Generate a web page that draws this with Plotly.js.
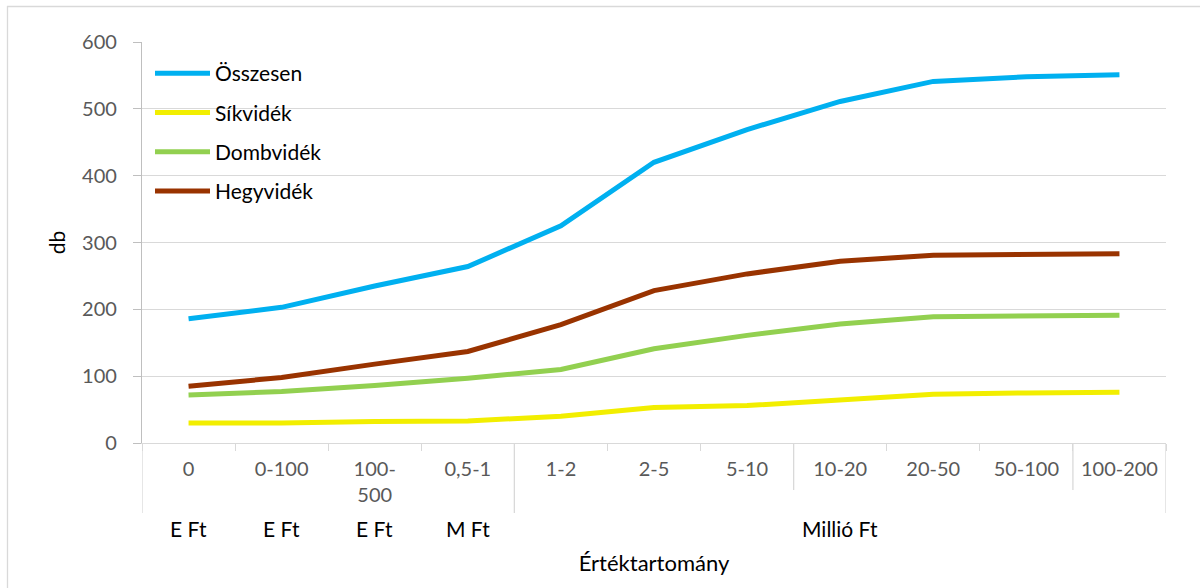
<!DOCTYPE html>
<html>
<head>
<meta charset="utf-8">
<script src="https://cdn.plot.ly/plotly-3.0.1.min.js"></script>
<style>
  html, body { margin: 0; padding: 0; background: #ffffff; }
  #chart { width: 1200px; height: 588px; }
</style>
</head>
<body>
<div id="chart"></div>
<script>
// ---- data ----
var categories = ["0", "0-100", "100-500", "0,5-1", "1-2", "2-5", "5-10", "10-20", "20-50", "50-100", "100-200"];
var tickLabels = ["0", "0-100", "100-<br>500", "0,5-1", "1-2", "2-5", "5-10", "10-20", "20-50", "50-100", "100-200"];
var unitGroups = ["E Ft", "E Ft", "E Ft", "M Ft", "Millió Ft"];
var unitGroupPos = [0, 1, 2, 3, 7];

var osszesen  = [186, 203, 235, 264, 325, 420, 469, 511, 541, 548, 551];
var sikvidek  = [30, 30, 32, 33, 40, 53, 56, 64, 73, 75, 76];
var dombvidek = [72, 77, 86, 97, 110, 141, 161, 178, 189, 190, 191];
var hegyvidek = [85, 98, 118, 137, 177, 228, 253, 272, 281, 282, 283];

var seriesNames = ["Összesen", "Síkvidék", "Dombvidék", "Hegyvidék"];
var seriesValues = [osszesen, sikvidek, dombvidek, hegyvidek];
var seriesColors = ["#00B0F0", "#F2EE00", "#92D050", "#993300"];

var FONT = "Lato, 'Open Sans', sans-serif";

var traces = seriesNames.map(function (name, i) {
  return {
    type: "scatter",
    mode: "lines",
    name: name,
    x: categories,
    y: seriesValues[i],
    legendgroup: "g" + i,
    line: { color: seriesColors[i], width: 5 },
    hoverinfo: "x+y+name"
  };
});

// plot area in px: x 142..1166, y 42..443
function py(p) { return (443 - p) / 401; }
function px(p) { return (p - 142) / 1024; }

var shapes = [];
// long dividers
[-0.5, 3.5, 10.5].forEach(function (xv) {
  shapes.push({ type: "line", xref: "x", yref: "paper", x0: xv, x1: xv, y0: 0, y1: py(513),
    line: { color: "#D9D9D9", width: 1.3 } });
});
// medium dividers
[6.5, 9.5].forEach(function (xv) {
  shapes.push({ type: "line", xref: "x", yref: "paper", x0: xv, x1: xv, y0: 0, y1: py(490),
    line: { color: "#D9D9D9", width: 1.3 } });
});
// outer chart border (left and top)
shapes.push({ type: "line", xref: "paper", yref: "paper", x0: px(7), x1: px(1200), y0: py(6.5), y1: py(6.5),
  line: { color: "#D9D9D9", width: 1.3 } });
shapes.push({ type: "line", xref: "paper", yref: "paper", x0: px(7.5), x1: px(7.5), y0: py(6), y1: py(588),
  line: { color: "#D9D9D9", width: 1.3 } });

var annotations = unitGroups.map(function (g, i) {
  return {
    xref: "x", yref: "paper", x: unitGroupPos[i], y: py(528),
    text: g, showarrow: false, xanchor: "center", yanchor: "middle",
    font: { family: FONT, size: 21, color: "#000000" }
  };
});

var layout = {
  width: 1200, height: 588,
  paper_bgcolor: "#ffffff", plot_bgcolor: "#ffffff",
  margin: { l: 142, r: 34, t: 42, b: 145, autoexpand: false },
  showlegend: true,
  legend: {
    x: px(150), y: py(53), xanchor: "left", yanchor: "top",
    bgcolor: "rgba(0,0,0,0)",
    font: { family: FONT, size: 21, color: "#000000" },
    traceorder: "grouped", tracegroupgap: 9,
    itemwidth: 55
  },
  xaxis: {
    type: "category",
    tickvals: categories, ticktext: tickLabels,
    range: [-0.5, 10.5],
    showgrid: false, zeroline: false,
    showline: true, linecolor: "#D9D9D9", linewidth: 1.3,
    ticks: "outside", tickson: "boundaries", ticklen: 7, tickcolor: "#D9D9D9", tickwidth: 1.3,
    tickfont: { family: FONT, size: 20, color: "#595959" },
    ticklabelstandoff: 8,
    title: { text: "Értéktartomány", font: { family: FONT, size: 22, color: "#000000" }, standoff: 50 },
    automargin: false, fixedrange: true
  },
  yaxis: {
    range: [0, 600], dtick: 100,
    showgrid: true, gridcolor: "#D9D9D9", gridwidth: 1.3,
    zeroline: false,
    showline: true, linecolor: "#BFBFBF", linewidth: 1.3,
    ticks: "outside", ticklen: 8, tickcolor: "#BFBFBF", tickwidth: 1.3,
    tickfont: { family: FONT, size: 20, color: "#595959" },
    ticklabelstandoff: 12,
    title: { text: "db", font: { family: FONT, size: 21, color: "#000000" }, standoff: 10 },
    automargin: false, fixedrange: true
  },
  shapes: shapes,
  annotations: annotations
};

Plotly.newPlot("chart", traces, layout, { displayModeBar: false, staticPlot: false });
</script>
</body>
</html>
